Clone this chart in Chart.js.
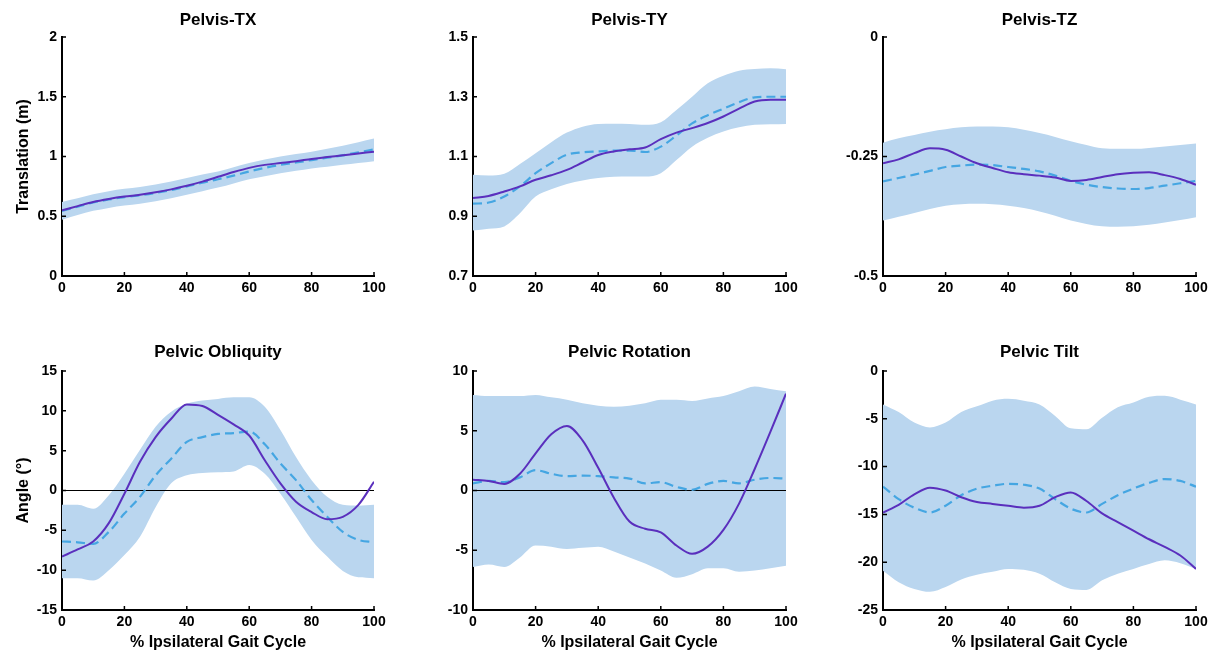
<!DOCTYPE html>
<html>
<head>
<meta charset="utf-8">
<script src="https://cdn.jsdelivr.net/npm/chart.js@4.4.1/dist/chart.umd.min.js"></script>
<style>
  body { margin:0; background:#fff; }
  #wrap { position:relative; width:1212px; height:654px; background:#fff; }
  #wrap canvas { position:absolute; }
</style>
</head>
<body>
<div id="wrap"></div>
<script>

// % gait cycle, one sample every 5%
const pct = [0,5,10,15,20,25,30,35,40,45,50,55,60,65,70,75,80,85,90,95,100]
const xTicks = [0,20,40,60,80,100]

// Pelvis-TX
const txSubject = [0.55,0.585,0.62,0.645,0.665,0.68,0.70,0.725,0.755,0.79,0.83,0.87,0.905,0.93,0.945,0.96,0.98,0.995,1.01,1.025,1.04]
const txNormal  = [0.545,0.58,0.615,0.64,0.66,0.675,0.695,0.72,0.75,0.78,0.81,0.84,0.875,0.905,0.93,0.95,0.97,0.99,1.01,1.035,1.06]
const txUpper   = [0.62,0.65,0.685,0.71,0.73,0.745,0.765,0.79,0.82,0.85,0.875,0.91,0.945,0.975,1.0,1.02,1.04,1.065,1.09,1.12,1.15]
const txLower   = [0.47,0.51,0.545,0.57,0.59,0.605,0.625,0.65,0.68,0.71,0.74,0.775,0.81,0.835,0.86,0.88,0.9,0.915,0.93,0.945,0.96]
const txTicks   = [0,0.5,1,1.5,2]

// Pelvis-TY
const tySubject = [0.961,0.968,0.983,1.0,1.022,1.037,1.055,1.08,1.105,1.117,1.124,1.13,1.158,1.18,1.195,1.212,1.234,1.26,1.284,1.29,1.29]
const tyNormal  = [0.942,0.946,0.966,1.0,1.044,1.078,1.106,1.114,1.117,1.12,1.12,1.115,1.133,1.17,1.211,1.238,1.26,1.282,1.298,1.30,1.30]
const tyUpper   = [1.039,1.036,1.042,1.075,1.111,1.148,1.18,1.2,1.209,1.21,1.209,1.206,1.215,1.256,1.30,1.345,1.37,1.387,1.393,1.395,1.392]
const tyLower   = [0.852,0.858,0.866,0.91,0.966,0.99,1.008,1.02,1.028,1.032,1.033,1.033,1.044,1.088,1.133,1.163,1.184,1.198,1.206,1.208,1.209]
const tyTicks   = [0.7,0.9,1.1,1.3,1.5]

// Pelvis-TZ
const tzSubject = [-0.264,-0.256,-0.243,-0.233,-0.236,-0.25,-0.264,-0.274,-0.283,-0.287,-0.290,-0.294,-0.301,-0.299,-0.293,-0.287,-0.284,-0.283,-0.289,-0.297,-0.309]
const tzNormal  = [-0.302,-0.295,-0.288,-0.28,-0.272,-0.269,-0.267,-0.268,-0.272,-0.276,-0.281,-0.29,-0.301,-0.309,-0.314,-0.317,-0.318,-0.316,-0.311,-0.306,-0.301]
const tzUpper   = [-0.221,-0.212,-0.205,-0.198,-0.193,-0.189,-0.187,-0.187,-0.189,-0.194,-0.201,-0.209,-0.218,-0.226,-0.233,-0.234,-0.234,-0.232,-0.229,-0.226,-0.223]
const tzLower   = [-0.384,-0.376,-0.368,-0.36,-0.353,-0.35,-0.349,-0.35,-0.353,-0.358,-0.365,-0.374,-0.384,-0.391,-0.396,-0.397,-0.396,-0.393,-0.388,-0.383,-0.377]
const tzTicks   = [-0.5,-0.25,0]

// Pelvic Obliquity
const obSubject = [-8.3,-7.4,-6.4,-4.1,-0.4,3.6,6.7,9.0,10.8,10.6,9.5,8.3,6.9,3.8,0.9,-1.4,-2.7,-3.6,-3.3,-1.8,1.1]
const obNormal  = [-6.4,-6.5,-6.7,-5.2,-2.9,-0.8,1.9,4.0,6.1,6.7,7.1,7.2,7.4,5.8,3.4,1.3,-1.2,-3.3,-5.2,-6.2,-6.5]
const obUpper   = [-1.8,-1.8,-2.3,-0.6,2.1,5.1,8.0,9.9,10.9,11.3,11.5,11.7,11.7,10.5,7.6,4.2,1.3,-0.8,-1.8,-1.9,-1.8]
const obLower   = [-11.0,-11.0,-11.3,-10.0,-8.1,-5.8,-2.1,0.9,1.9,2.2,2.3,2.4,3.2,2.1,-0.4,-3.3,-6.2,-8.3,-10.1,-10.9,-11.0]
const obTicks   = [-15,-10,-5,0,5,10,15]

// Pelvic Rotation
const roSubject = [0.9,0.8,0.55,1.4,3.1,4.7,5.4,4.2,1.9,-0.6,-2.6,-3.2,-3.5,-4.6,-5.3,-4.7,-3.3,-1.1,1.8,4.9,8.1]
const roNormal  = [0.6,0.8,0.7,1.1,1.7,1.4,1.2,1.25,1.2,1.1,1.0,0.6,0.7,0.3,0.05,0.55,0.8,0.6,0.9,1.05,1.0]
const roUpper   = [8.0,7.9,7.9,7.9,8.0,7.8,7.6,7.3,7.1,7.0,7.1,7.3,7.6,7.6,7.5,7.7,7.9,8.3,8.7,8.5,8.3]
const roLower   = [-6.4,-6.2,-6.4,-5.6,-4.6,-4.7,-4.9,-4.8,-4.7,-5.1,-5.6,-6.1,-6.7,-7.3,-7.0,-6.5,-6.5,-6.8,-6.7,-6.5,-6.3]
const roTicks   = [-10,-5,0,5,10]

// Pelvic Tilt
const tiSubject = [-14.8,-14.0,-12.9,-12.2,-12.5,-13.2,-13.7,-13.9,-14.1,-14.3,-14.1,-13.2,-12.7,-13.6,-14.9,-15.8,-16.7,-17.6,-18.4,-19.3,-20.7]
const tiNormal  = [-12.1,-13.4,-14.3,-14.8,-14.1,-13.0,-12.3,-12.0,-11.8,-11.9,-12.3,-13.4,-14.4,-14.8,-13.9,-13.0,-12.3,-11.7,-11.3,-11.5,-12.1]
const tiUpper   = [-3.5,-4.3,-5.4,-5.9,-5.4,-4.3,-3.7,-3.1,-2.9,-3.1,-3.5,-4.7,-6.0,-6.1,-4.9,-3.8,-3.3,-2.7,-2.6,-3.0,-3.5]
const tiLower   = [-20.9,-22.1,-22.8,-23.1,-22.6,-21.8,-21.3,-21.0,-20.7,-20.8,-21.2,-22.1,-22.8,-22.9,-21.9,-21.2,-20.7,-20.2,-19.8,-20.1,-20.7]
const tiTicks   = [-25,-20,-15,-10,-5,0]


const PURPLE = '#5a2fbd'
const DASHED = '#45a6e2'
const BAND   = '#bad6ef'
const FONT   = "'Liberation Sans', Arial, sans-serif"


// panel boxes (canvas position) and chart data
const panels = [
  { title:'Pelvis-TX',        left:0,   top:0,   w:400, h:300, yw:62, pr:26, subject:txSubject, normal:txNormal, upper:txUpper, lower:txLower, ticks:txTicks, ylabel:'Translation (m)' },
  { title:'Pelvis-TY',        left:400, top:0,   w:410, h:300, yw:73, pr:24, subject:tySubject, normal:tyNormal, upper:tyUpper, lower:tyLower, ticks:tyTicks },
  { title:'Pelvis-TZ',        left:810, top:0,   w:402, h:300, yw:73, pr:16, subject:tzSubject, normal:tzNormal, upper:tzUpper, lower:tzLower, ticks:tzTicks },
  { title:'Pelvic Obliquity', left:0,   top:334, w:400, h:320, yw:62, pr:26, subject:obSubject, normal:obNormal, upper:obUpper, lower:obLower, ticks:obTicks, ylabel:'Angle (°)', xlabel:true, zero:true },
  { title:'Pelvic Rotation',  left:400, top:334, w:410, h:320, yw:73, pr:24, subject:roSubject, normal:roNormal, upper:roUpper, lower:roLower, ticks:roTicks, xlabel:true, zero:true },
  { title:'Pelvic Tilt',      left:810, top:334, w:402, h:320, yw:73, pr:16, subject:tiSubject, normal:tiNormal, upper:tiUpper, lower:tiLower, ticks:tiTicks, xlabel:true },
]


// matlab style ticks pointing into the plot
const inTicks = {
  id: 'inTicks',
  afterDraw(chart){
    const { ctx, chartArea:a, scales:{ x, y } } = chart
    ctx.save()
    ctx.strokeStyle = '#000'
    ctx.lineWidth = 1.5
    ctx.beginPath()
    x.ticks.forEach(t => { const px = x.getPixelForValue(t.value); ctx.moveTo(px, a.bottom); ctx.lineTo(px, a.bottom - 4) })
    y.ticks.forEach(t => { const py = y.getPixelForValue(t.value); ctx.moveTo(a.left, py); ctx.lineTo(a.left + 4, py) })
    ctx.stroke()
    ctx.restore()
  }
}


function toXY(values){ return values.map((v, i) => ({ x: pct[i], y: v })) }

// smooth curve without overshoot between samples
const smooth = { pointRadius: 0, cubicInterpolationMode: 'monotone' }


function createPanel(p){

  const canvas = document.createElement('canvas')
  canvas.width = p.w
  canvas.height = p.h
  canvas.style.left = p.left + 'px'
  canvas.style.top = p.top + 'px'
  document.getElementById('wrap').appendChild(canvas)

  const bottomRow = p.top > 0

  const datasets = [
    { ...smooth, data: toXY(p.subject), borderColor: PURPLE, borderWidth: 2, fill: false },
    { ...smooth, data: toXY(p.normal),  borderColor: DASHED, borderWidth: 2.2, borderDash: [9,5], fill: false },
  ]
  //thin black line at zero for the angle plots
  if(p.zero){ datasets.push({ data: [{x:0,y:0},{x:100,y:0}], borderColor:'#000', borderWidth:1, pointRadius:0, fill:false }) }

  datasets.push({ ...smooth, data: toXY(p.upper), borderWidth: 0, fill: '+1', backgroundColor: BAND })
  datasets.push({ ...smooth, data: toXY(p.lower), borderWidth: 0, fill: false })

  new Chart(canvas, {
    type: 'line',
    data: { datasets },
    plugins: [inTicks],
    options: {
      responsive: false,
      animation: false,
      layout: { padding: { left: 0, right: p.pr, top: 0, bottom: 0 } },
      plugins: {
        legend: { display: false },
        tooltip: { enabled: false },
        title: {
          display: true, text: p.title, color: '#000', fullSize: false,
          font: { family: FONT, size: 17, weight: 'bold' },
          padding: bottomRow ? { top: 8.5, bottom: 8.1 } : { top: 10.5, bottom: 6.1 }
        }
      },
      scales: {
        x: {
          type: 'linear', min: 0, max: 100, z: 1,
          afterBuildTicks: s => { s.ticks = xTicks.map(v => ({ value: v })) },
          afterFit: s => { s.height = bottomRow ? 44 : 24 },
          grid: { display: false, drawTicks: false },
          border: { display: true, color: '#000', width: 2 },
          ticks: { color: '#000', padding: 4, maxRotation: 0, font: { family: FONT, size: 14, weight: 'bold' }, callback: v => String(v) },
          title: { display: !!p.xlabel, text: '% Ipsilateral Gait Cycle', color: '#000', padding: { top: 0, bottom: 2.2 },
                   font: { family: FONT, size: 16, weight: 'bold' } }
        },
        y: {
          type: 'linear', min: p.ticks[0], max: p.ticks[p.ticks.length - 1], z: 1,
          afterBuildTicks: s => { s.ticks = p.ticks.map(v => ({ value: v })) },
          afterFit: s => { s.width = p.yw },
          grid: { display: false, drawTicks: false },
          border: { display: true, color: '#000', width: 2 },
          ticks: { color: '#000', padding: 5, font: { family: FONT, size: 14, weight: 'bold' }, callback: v => String(v) },
          title: { display: !!p.ylabel, text: p.ylabel || '', color: '#000', padding: { top: 14.4, bottom: 0 },
                   font: { family: FONT, size: 16, weight: 'bold' } }
        }
      }
    }
  })
}

panels.forEach(createPanel)

</script>
</body>
</html>
